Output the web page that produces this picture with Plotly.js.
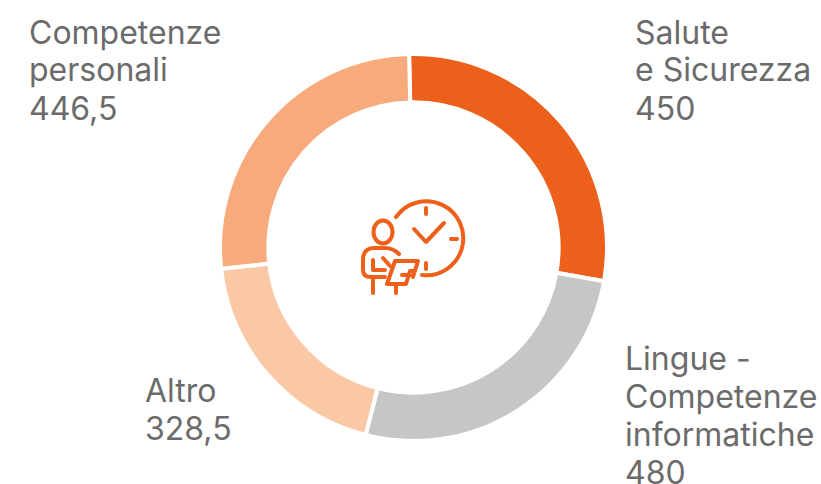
<!DOCTYPE html>
<html><head><meta charset="utf-8">
<script src="https://cdn.plot.ly/plotly-3.0.1.min.js"></script>
<style>html,body{margin:0;padding:0;background:#fff}</style></head>
<body><div id="c" style="width:821px;height:484px"></div>
<script>
// Slice sizes in drawn order (clockwise from the top); the arcs measure 480 / 446.5 / 328.5 / 450
var sliceNames = ["Salute e Sicurezza","Lingue - Competenze informatiche","Altro","Competenze personali"];
var sliceValues = [480, 446.5, 328.5, 450];
var sliceColors = ["#ed601b","#c6c6c6","#fbc8a6","#f7aa7c"];
// Captions as printed, one entry per line
var captionLines = ["Salute","e Sicurezza","450","Lingue -","Competenze","informatiche","480","Altro","328,5","Competenze","personali","446,5"];
var captionX = [636,636,636,626,626,626,626,146,146,30,30,30];
var captionY = [32,70,108,358,396,434,472,390,428,32,70,108];
var W=821,H=484;
var icon = '<svg xmlns="http://www.w3.org/2000/svg" width="140" height="130" viewBox="0 0 140 130"><g fill="none" stroke="#ee601a" stroke-width="4" stroke-linecap="round" stroke-linejoin="round">'+
 '<path d="M56 37A37 37 0 1 1 82 95"/><path d="M86 28V34M86 83V89M111 59H117"/><path d="M74 49L86 62L104 43"/>'+
 '<ellipse cx="43" cy="52" rx="9.5" ry="11.5"/>'+
 '<path d="M59 74Q53 68 45 68H33Q23 69 23 80V90Q23 97 31 97H45"/><path d="M33 80V90H45M43 78L50 86"/>'+
 '<path d="M33 97V113M56 106V113"/><path d="M55 81H78L73 97M55 81L47 104H66L70 91H75M62 95H70"/></g></svg>';
Plotly.newPlot('c',[{type:'pie',labels:sliceNames,values:sliceValues,sort:false,direction:'clockwise',rotation:-1.3,hole:0.75,
 marker:{colors:sliceColors,line:{color:'#fff',width:4}},textinfo:'none',showlegend:false,
 domain:{x:[(413.5-193.5)/W,(413.5+193.5)/W],y:[1-(247.5+193.5)/H,1-(247.5-193.5)/H]}}],
 {width:W,height:H,margin:{l:0,r:0,t:0,b:0},paper_bgcolor:'#fff',showlegend:false,
 annotations:captionLines.map(function(t,i){return {text:t,xref:'paper',yref:'paper',x:(captionX[i]-2)/W,y:1-captionY[i]/H,xanchor:'left',yanchor:'middle',align:'left',showarrow:false,borderpad:0,font:{family:'Inter',size:32,color:'#6b6b6b'}};}),
 images:[{source:'data:image/svg+xml;charset=utf-8,'+encodeURIComponent(icon),xref:'paper',yref:'paper',x:340/W,y:1-180/H,sizex:140/W,sizey:130/H,xanchor:'left',yanchor:'top',sizing:'stretch',layer:'above'}]},
 {displayModeBar:false,staticPlot:true});
</script></body></html>
